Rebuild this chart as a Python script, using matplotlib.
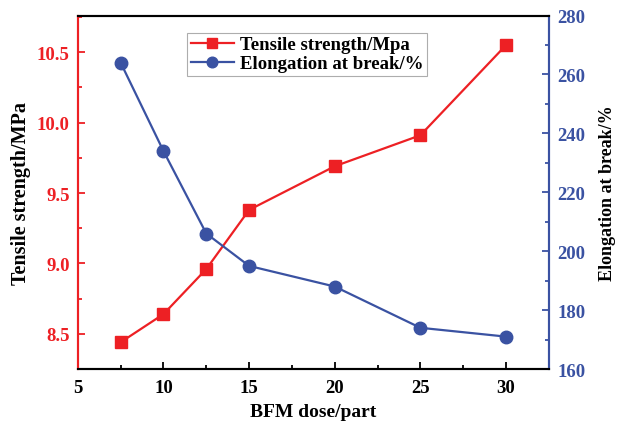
import matplotlib.pyplot as plt
from matplotlib.ticker import MultipleLocator

dose = [7.5, 10, 12.5, 15, 20, 25, 30]
tensile = [8.44, 8.64, 8.96, 9.38, 9.69, 9.91, 10.55]
elongation = [264, 234, 206, 195, 188, 174, 171]

red = '#ED2024'
blue = '#3A52A2'

plt.rcParams['font.family'] = ['Liberation Serif', 'DejaVu Serif']
plt.rcParams['font.weight'] = 'bold'

fig = plt.figure(figsize=(6.18, 4.31), dpi=100)
ax = fig.add_axes([0.126, 0.1415, 0.762, 0.82])
ax2 = ax.twinx()

l1, = ax.plot(dose, tensile, color=red, lw=1.6, marker='s', ms=8, label='Tensile strength/Mpa')
l2, = ax2.plot(dose, elongation, color=blue, lw=1.6, marker='o', ms=9, label='Elongation at break/%')

ax.set_xlim(5, 32.5)
ax.set_ylim(8.25, 10.76)
ax2.set_ylim(160, 280)

ax.xaxis.set_major_locator(MultipleLocator(5))
ax.xaxis.set_minor_locator(MultipleLocator(2.5))
ax.yaxis.set_major_locator(MultipleLocator(0.5))
ax.yaxis.set_minor_locator(MultipleLocator(0.25))
ax2.yaxis.set_major_locator(MultipleLocator(20))
ax2.yaxis.set_minor_locator(MultipleLocator(10))

ax.tick_params(axis='x', which='both', direction='in', colors='black', labelsize=13.5, top=False, pad=7)
ax.tick_params(axis='x', which='major', length=5, width=1.3)
ax.tick_params(axis='x', which='minor', length=3, width=1.3)
ax.tick_params(axis='y', which='both', direction='in', colors=red, labelsize=13.5, pad=6)
ax.tick_params(axis='y', which='major', length=5, width=1.3)
ax.tick_params(axis='y', which='minor', length=3, width=1.3)
ax2.tick_params(axis='y', which='both', direction='in', colors=blue, labelsize=13.5, pad=6)
ax2.tick_params(axis='y', which='major', length=5, width=1.3)
ax2.tick_params(axis='y', which='minor', length=3, width=1.3)

for a in (ax, ax2):
    for s in a.spines.values():
        s.set_linewidth(1.5)
    a.spines['left'].set_color(red)
    a.spines['right'].set_color(blue)
    a.spines['top'].set_color('black')
    a.spines['bottom'].set_color('black')

ax.set_xlabel('BFM dose/part', fontsize=14, fontweight='bold', labelpad=5)
ax.set_ylabel('Tensile strength/MPa', fontsize=14.5, fontweight='bold', labelpad=4)
ax2.set_ylabel('Elongation at break/%', fontsize=13, fontweight='bold', labelpad=10)

leg = ax.legend(handles=[l1, l2], loc='upper left', bbox_to_anchor=(0.232, 0.952),
                prop={'size': 13.5, 'weight': 'bold'}, fancybox=False, frameon=True,
                handlelength=2.3, handletextpad=0.3, borderpad=0.2, labelspacing=0.1,
                borderaxespad=0, markerscale=0.85)
leg.get_frame().set_edgecolor('#999999')
leg.get_frame().set_linewidth(0.8)

fig.savefig('out.png', dpi=100)
